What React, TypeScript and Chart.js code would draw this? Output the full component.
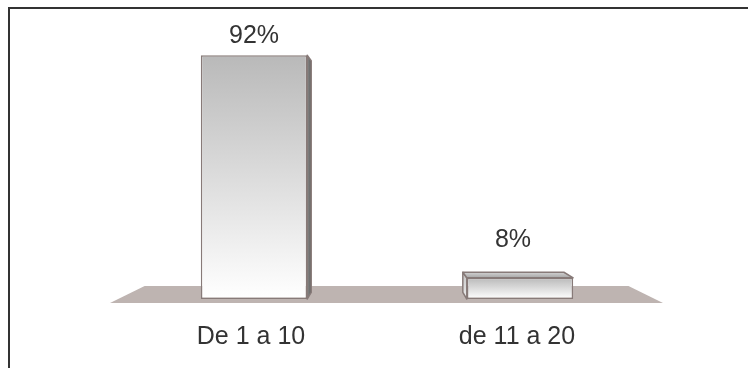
import { useEffect, useRef } from "react";
import { Chart, registerables } from "chart.js";

Chart.register(...registerables);

// Ranges and the share of answers in each
const categories = ["De 1 a 10", "de 11 a 20"];
const shares = [92, 8];

const FONT = '"Liberation Sans", Arial, Helvetica, sans-serif';
const EDGE = "#877a78";
const TEXT = "#333333";
const FLOOR = "#beb4b1";

type Pt = { x: number; y: number };

// Pull a point toward the vanishing point to get its copy further back in depth
const project = (vp: Pt, p: Pt, s: number): Pt => ({
  x: vp.x + (p.x - vp.x) * s,
  y: vp.y + (p.y - vp.y) * s,
});

const vanishing = (chart: Chart): Pt => {
  const { left, right, top, bottom } = chart.chartArea;
  return { x: (left + right) / 2, y: (top + bottom) / 2 };
};

const polygon = (ctx: CanvasRenderingContext2D, pts: Pt[], fill: string | CanvasGradient, stroke?: string) => {
  ctx.beginPath();
  pts.forEach((p, i) => (i === 0 ? ctx.moveTo(p.x, p.y) : ctx.lineTo(p.x, p.y)));
  ctx.closePath();
  ctx.fillStyle = fill;
  ctx.fill();
  if (stroke) {
    ctx.strokeStyle = stroke;
    ctx.lineWidth = 1.5;
    ctx.lineJoin = "round";
    ctx.stroke();
  }
};

// Frame around the whole picture
const framePlugin = {
  id: "frame",
  afterDraw(chart: Chart) {
    const ctx = chart.ctx;
    ctx.save();
    ctx.strokeStyle = "#333333";
    ctx.lineWidth = 2;
    ctx.strokeRect(9, 8, chart.width + 20, chart.height + 20);
    ctx.restore();
  },
};

// Perspective floor under the bars
const floorPlugin = {
  id: "floor",
  beforeDatasetsDraw(chart: Chart) {
    const { left, right, bottom } = chart.chartArea;
    const vp = vanishing(chart);
    const fl = { x: left - 11, y: bottom + 4 };
    const fr = { x: right + 10, y: bottom + 4 };
    const bl = project(vp, fl, 0.875);
    const br = project(vp, fr, 0.875);
    const ctx = chart.ctx;
    ctx.save();
    polygon(ctx, [fl, fr, br, bl], FLOOR);
    ctx.restore();
  },
};

// Side and top faces that give each bar its depth
const boxPlugin = {
  id: "box",
  afterDatasetsDraw(chart: Chart) {
    const ctx = chart.ctx;
    const vp = vanishing(chart);
    const s = 0.95;
    ctx.save();
    chart.getDatasetMeta(0).data.forEach((el: any) => {
      const { x, y, base, width } = el.getProps(["x", "y", "base", "width"], true);
      const l = x - width / 2;
      const r = x + width / 2;
      const tl = { x: l, y }, tr = { x: r, y };
      const bl = { x: l, y: base }, br = { x: r, y: base };
      const btl = project(vp, tl, s), btr = project(vp, tr, s);
      const bbl = project(vp, bl, s), bbr = project(vp, br, s);
      if (x < vp.x) {
        const g = ctx.createLinearGradient(r, 0, btr.x, 0);
        g.addColorStop(0, "#8a8a8a");
        g.addColorStop(1, "#5e5e5e");
        polygon(ctx, [tr, btr, bbr, br], g, EDGE);
      } else {
        const g = ctx.createLinearGradient(0, btl.y, 0, bl.y);
        g.addColorStop(0, "#c4c4c4");
        g.addColorStop(1, "#ededed");
        polygon(ctx, [tl, btl, bbl, bl], g, EDGE);
      }
      if (y > vp.y) {
        const g = ctx.createLinearGradient(0, btl.y, 0, tl.y);
        g.addColorStop(0, "#d2d2d2");
        g.addColorStop(1, "#a6a6a6");
        polygon(ctx, [tl, tr, btr, btl], g, EDGE);
      }
    });
    ctx.restore();
  },
};

// Percentage written above every bar
const labelLift = [12, 31];
const labelShift = [0, -7];
const valueLabelPlugin = {
  id: "valueLabels",
  afterDatasetsDraw(chart: Chart) {
    const ctx = chart.ctx;
    ctx.save();
    ctx.font = `25px ${FONT}`;
    ctx.fillStyle = TEXT;
    ctx.textAlign = "center";
    ctx.textBaseline = "alphabetic";
    chart.getDatasetMeta(0).data.forEach((el: any, i: number) => {
      const { x, y } = el.getProps(["x", "y"], true);
      ctx.fillText(`${shares[i]}%`, x + labelShift[i], y - labelLift[i]);
    });
    ctx.restore();
  },
};

export default function App() {
  const canvasRef = useRef<HTMLCanvasElement | null>(null);

  useEffect(() => {
    const canvas = canvasRef.current;
    if (!canvas) return;
    const chart = new Chart(canvas, {
      type: "bar",
      data: {
        labels: categories,
        datasets: [
          {
            data: shares,
            backgroundColor: (c: any) => {
              const ch = c.chart;
              if (!ch.chartArea || c.raw == null) return "#dddddd";
              const ys = ch.scales.y;
              const g = ch.ctx.createLinearGradient(0, ys.getPixelForValue(c.raw), 0, ys.getPixelForValue(0));
              g.addColorStop(0, "#b9b9b9");
              g.addColorStop(1, "#ffffff");
              return g;
            },
            borderColor: EDGE,
            borderWidth: 1.5,
            borderSkipped: false,
            barPercentage: 0.4,
            categoryPercentage: 1,
          },
        ],
      },
      options: {
        responsive: false,
        animation: false,
        devicePixelRatio: 1,
        layout: { padding: { top: 34, bottom: 16, left: 121, right: 95 } },
        plugins: {
          legend: { display: false },
          tooltip: { enabled: false },
        },
        scales: {
          y: { display: false, min: 0, max: 100 },
          x: {
            grid: { display: false, drawTicks: false },
            border: { display: false },
            afterFit: (scale: any) => {
              scale.height = 53;
            },
            ticks: {
              color: TEXT,
              padding: 23,
              labelOffset: -3,
              maxRotation: 0,
              font: { family: FONT, size: 25 },
            },
          },
        },
      },
      plugins: [floorPlugin, boxPlugin, valueLabelPlugin, framePlugin],
    });
    return () => chart.destroy();
  }, []);

  return (
    <canvas
      ref={canvasRef}
      width={748}
      height={368}
      style={{ position: "fixed", left: 0, top: 0, width: 748, height: 368, display: "block", background: "#ffffff" }}
    />
  );
}
